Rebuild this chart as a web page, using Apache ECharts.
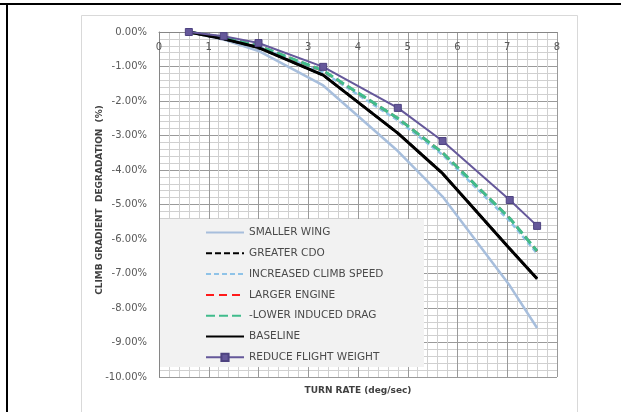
<!DOCTYPE html>
<html>
<head>
<meta charset="utf-8">
<script src="https://cdn.jsdelivr.net/npm/echarts@6/dist/echarts.min.js"></script>
<style>
html,body{margin:0;padding:0;background:#fff;}
#chart{width:621px;height:412px;}
</style>
</head>
<body>
<div id="chart"></div>
<script>
// ---- data ----
var turnRate = [0.6, 1.3, 2.0, 3.3, 4.8, 5.7, 7.05, 7.6];
var smallerWing = [0, -0.22, -0.55, -1.55, -3.45, -4.77, -7.35, -8.58];
var greaterCD0 = [0, -0.2, -0.45, -1.25, -2.93, -4.1, -6.28, -7.15];
var increasedClimbSpeed = [0, -0.17, -0.42, -1.17, -2.56, -3.56, -5.48, -6.42];
var largerEngine = [0, -0.16, -0.4, -1.13, -2.5, -3.5, -5.4, -6.35];
var lowerInducedDrag = [0, -0.16, -0.4, -1.12, -2.5, -3.5, -5.4, -6.35];
var baseline = [0, -0.2, -0.45, -1.25, -2.93, -4.1, -6.28, -7.15];
var reduceFlightWeight = [0, -0.12, -0.32, -1.01, -2.2, -3.16, -4.87, -5.62];
var seriesNames = ['SMALLER WING', 'GREATER CDO', 'INCREASED CLIMB SPEED', 'LARGER ENGINE', '-LOWER INDUCED DRAG', 'BASELINE', 'REDUCE FLIGHT WEIGHT'];
var xTickLabels = ['0', '1', '2', '3', '4', '5', '6', '7', '8'];
var yTickLabels = ['-10.00%', '-9.00%', '-8.00%', '-7.00%', '-6.00%', '-5.00%', '-4.00%', '-3.00%', '-2.00%', '-1.00%', '0.00%'];

function pairs(ys) { return turnRate.map(function (x, i) { return [x, ys[i]]; }); }

var styles = [
  { color: '#A7BEDC', width: 2.5, type: 'solid' },
  { color: '#000000', width: 2.5, type: [6, 3] },
  { color: '#8FC3E8', width: 2.5, type: [5, 3] },
  { color: '#FF1A1A', width: 2.5, type: [8, 5] },
  { color: '#40BC8C', width: 3, type: [9, 4] },
  { color: '#000000', width: 3, type: 'solid' },
  { color: '#65589A', width: 2, type: 'solid' }
];
var dataSets = [smallerWing, greaterCD0, increasedClimbSpeed, largerEngine, lowerInducedDrag, baseline, reduceFlightWeight];

var series = dataSets.map(function (d, i) {
  var s = styles[i];
  var isMarker = (i === 6);
  return {
    name: seriesNames[i],
    type: 'line',
    data: pairs(d),
    symbol: isMarker ? 'rect' : 'circle',
    symbolSize: isMarker ? 7 : 0,
    showSymbol: isMarker,
    z: 2 + i,
    lineStyle: { color: s.color, width: s.width, type: s.type },
    itemStyle: { color: s.color, borderColor: '#4E4380', borderWidth: 1 },
    emphasis: { disabled: true },
    animation: false
  };
});

var legendData = seriesNames.map(function (n, i) {
  return i === 6 ? { name: n } : { name: n, itemStyle: { opacity: 0 } };
});

var chart = echarts.init(document.getElementById('chart'), null, { renderer: 'canvas' });
var font = 'DejaVu Sans';
chart.setOption({
  animation: false,
  backgroundColor: '#ffffff',
  textStyle: { fontFamily: font },
  grid: { left: 159, top: 32, width: 398, height: 345, containLabel: false },
  xAxis: {
    type: 'value', min: 0, max: 8, interval: 1, position: 'top',
    axisLine: { show: true, onZero: false, lineStyle: { color: '#868686', width: 1 } },
    axisTick: { show: false },
    axisLabel: {
      inside: true, margin: 10, color: '#595959', fontSize: 10, fontFamily: font,
      formatter: function (v) { return xTickLabels[Math.round(v)]; }
    },
    splitLine: { show: true, lineStyle: { color: '#9A9A9A', width: 1 } },
    minorTick: { show: false, splitNumber: 5 },
    minorSplitLine: { show: true, lineStyle: { color: '#D0D0D0', width: 1 } }
  },
  yAxis: {
    type: 'value', min: -10, max: 0, interval: 1,
    axisLine: { show: true, lineStyle: { color: '#868686', width: 1 } },
    axisTick: { show: false },
    axisLabel: {
      margin: 12, color: '#595959', fontSize: 10, fontFamily: font,
      formatter: function (v) { return yTickLabels[Math.round(v + 10)]; }
    },
    splitLine: { show: true, lineStyle: { color: '#9A9A9A', width: 1 } },
    minorTick: { show: false, splitNumber: 5 },
    minorSplitLine: { show: true, lineStyle: { color: '#D0D0D0', width: 1 } }
  },
  legend: {
    orient: 'vertical',
    left: 205, top: 227,
    padding: 0,
    itemWidth: 38, itemHeight: 9, itemGap: 9.8,
    itemTextGap: 1,
    selectedMode: false,
    textStyle: { color: '#4A4A4A', fontSize: 10.5, fontFamily: font },
    data: legendData,
    z: 10
  },
  graphic: [
    { type: 'rect', shape: { x: 81.5, y: 15.5, width: 496, height: 410 }, style: { fill: 'none', stroke: '#D9D9D9', lineWidth: 1 }, z: 1 },
    { type: 'rect', shape: { x: 160, y: 219, width: 264, height: 148 }, style: { fill: '#F2F2F2' }, z: 9 },
    { type: 'rect', shape: { x: 0, y: 3, width: 621, height: 2 }, style: { fill: '#000' }, z: 20 },
    { type: 'rect', shape: { x: 6, y: 3, width: 2, height: 409 }, style: { fill: '#000' }, z: 20 },
    { type: 'text', x: 358, y: 391, style: { text: 'TURN RATE (deg/sec)', fill: '#404040', font: 'bold 9px "DejaVu Sans"', align: 'center', verticalAlign: 'middle' }, z: 20 },
    { type: 'text', x: 100, y: 200, rotation: Math.PI / 2, style: { text: 'CLIMB GRADIENT  DEGRADATION  (%)', fill: '#404040', font: 'bold 9px "DejaVu Sans"', align: 'center', verticalAlign: 'middle' }, z: 20 }
  ],
  series: series
});
</script>
</body>
</html>
